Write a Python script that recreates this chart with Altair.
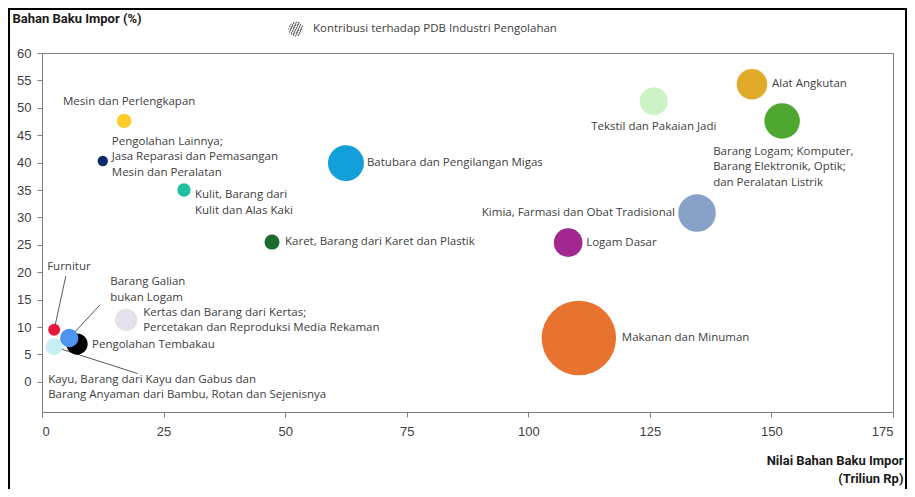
import altair as alt
import pandas as pd

# ---- data ----
sektor = [
    "Makanan dan Minuman", "Logam Dasar", "Kimia, Farmasi dan Obat Tradisional",
    "Barang Logam; Komputer, Barang Elektronik, Optik; dan Peralatan Listrik",
    "Alat Angkutan", "Tekstil dan Pakaian Jadi", "Batubara dan Pengilangan Migas",
    "Karet, Barang dari Karet dan Plastik", "Kulit, Barang dari Kulit dan Alas Kaki",
    "Pengolahan Lainnya; Jasa Reparasi dan Pemasangan Mesin dan Peralatan",
    "Mesin dan Perlengkapan",
    "Kertas dan Barang dari Kertas; Percetakan dan Reproduksi Media Rekaman",
    "Furnitur", "Barang Galian bukan Logam", "Pengolahan Tembakau",
    "Kayu, Barang dari Kayu dan Gabus dan Barang Anyaman dari Bambu, Rotan dan Sejenisnya",
]
nilai_impor = [110.4, 108.2, 134.7, 152.2, 146.0, 125.8, 62.5, 47.3, 29.2, 12.5, 16.9, 17.3, 2.5, 5.6, 7.2, 2.5]
persen_impor = [8.0, 25.4, 30.8, 47.6, 54.3, 51.2, 39.9, 25.5, 35.0, 40.3, 47.6, 11.3, 9.5, 8.0, 6.9, 6.4]
kontribusi = [39.1, 5.8, 10.0, 8.9, 6.6, 5.5, 9.1, 1.6, 1.25, 0.76, 1.47, 3.5, 1.0, 2.4, 3.2, 2.0]

x_ticks = [0, 25, 50, 75, 100, 125, 150, 175]
y_ticks = [0, 5, 10, 15, 20, 25, 30, 35, 40, 45, 50, 55, 60]

# ---- styles ----
warna = ["#E8732F", "#A0288F", "#87A2C6", "#4EA72E", "#E0AA28", "#CDF2C6", "#139FD9",
         "#1B6B2B", "#1FC0A0", "#0E2A6B", "#FFCC2A", "#E6E0EA", "#E8193C", "#4C95F0",
         "#000000", "#C6EEF4"]
label_text = [
    "Makanan dan Minuman", "Logam Dasar", "Kimia, Farmasi dan Obat Tradisional",
    "Barang Logam; Komputer,\nBarang Elektronik, Optik;\ndan Peralatan Listrik",
    "Alat Angkutan", "Tekstil dan Pakaian Jadi", "Batubara dan Pengilangan Migas",
    "Karet, Barang dari Karet dan Plastik", "Kulit, Barang dari\nKulit dan Alas Kaki",
    "Pengolahan Lainnya;\nJasa Reparasi dan Pemasangan\nMesin dan Peralatan",
    "Mesin dan Perlengkapan",
    "Kertas dan Barang dari Kertas;\nPercetakan dan Reproduksi Media Rekaman",
    "Furnitur", "Barang Galian\nbukan Logam", "Pengolahan Tembakau",
    "Kayu, Barang dari Kayu dan Gabus dan\nBarang Anyaman dari Bambu, Rotan dan Sejenisnya",
]
label_align = ["left", "left", "right", "left", "left", "center", "left", "left", "left",
               "left", "center", "left", "left", "left", "left", "left"]
label_dx = [43, 18, -22, -69, 20, 0, 21, 13, 11, 9, 5, 17, -7, 41, 15, -6]
label_dy = [0, 0, 0, 31, 0, 26, 0, 0, 5, -19, -19, -7, -63, -56, 1, 33]

# leader lines (annotation end points, in axis units)
leader_sektor = ["Furnitur", "Barang Galian bukan Logam",
                 "Kayu, Barang dari Kayu dan Gabus dan Barang Anyaman dari Bambu, Rotan dan Sejenisnya"]
leader_x2 = [4.9, 11.9, 19.7]
leader_y2 = [19.3, 14.0, 1.5]

df = pd.DataFrame({
    "sektor": sektor,
    "nilai": nilai_impor,
    "persen": persen_impor,
    "kontribusi": kontribusi,
    "label": label_text,
})
lead_df = pd.DataFrame({"sektor": leader_sektor, "x2": leader_x2, "y2": leader_y2}).merge(
    df[["sektor", "nilai", "persen"]], on="sektor")

AXIS_COL = "#7f7f7f"
TXT = "#404040"

xscale = alt.Scale(domain=[0, 175], nice=False, zero=False)
yscale = alt.Scale(domain=[-5.5, 60], nice=False, zero=False)

x_axis = alt.Axis(
    values=x_ticks, grid=False, tickSize=5, labelPadding=8, labelOverlap=False,
    labelFont="Liberation Sans", labelFontSize=13, labelColor=TXT,
    domainColor=AXIS_COL, tickColor=AXIS_COL,
    title=["Nilai Bahan Baku Impor", "(Triliun Rp)"], titleAngle=0,
    titleAlign="right", titleBaseline="top", titleX=861, titleY=42,
    titleFont="Roboto", titleFontSize=13, titleFontWeight="bold", titleColor="#1a1a1a",
    titleLineHeight=18)
y_axis = alt.Axis(
    values=y_ticks, tickCount=13, grid=False, tickSize=5, labelPadding=6, labelOverlap=False,
    labelFont="Liberation Sans", labelFontSize=13, labelColor=TXT,
    domainColor=AXIS_COL, tickColor=AXIS_COL,
    title="Bahan Baku Impor (%)", titleAngle=0, titleAlign="left",
    titleBaseline="middle", titleX=-30, titleY=-35,
    titleFont="Roboto", titleFontSize=13, titleFontWeight="bold", titleColor="#1a1a1a")

x_enc = alt.X("nilai:Q", scale=xscale, axis=x_axis)
y_enc = alt.Y("persen:Q", scale=yscale, axis=y_axis)

leaders = alt.Chart(lead_df).mark_rule(color="#595959", strokeWidth=1).encode(
    x=x_enc, y=y_enc, x2="x2:Q", y2="y2:Q")

circles = alt.Chart(df).mark_circle(opacity=1).encode(
    x=x_enc, y=y_enc,
    size=alt.Size("kontribusi:Q", scale=alt.Scale(domain=[0, 39.1], range=[0, 5542]), legend=None),
    color=alt.Color("sektor:N", scale=alt.Scale(domain=sektor, range=warna), legend=None),
    order=alt.Order("kontribusi:Q", sort="descending"),
    tooltip=["sektor", "nilai", "persen", "kontribusi"],
)

labels = []
for i, s in enumerate(sektor):
    labels.append(
        alt.Chart(df).transform_filter(alt.datum.sektor == s).mark_text(
            align=label_align[i], baseline="middle", dx=label_dx[i], dy=label_dy[i],
            font="Open Sans", fontSize=11.5, color=TXT, lineBreak="\n", lineHeight=15.5,
        ).encode(x=x_enc, y=y_enc, text="label:N")
    )

# legend (single hatched symbol)
stops = []
n = 7
for k in range(n):
    stops += [
        alt.GradientStop(offset=k / n, color="#7a7a7a"),
        alt.GradientStop(offset=(k + 0.45) / n, color="#7a7a7a"),
        alt.GradientStop(offset=(k + 0.45) / n, color="#e6e6e6"),
        alt.GradientStop(offset=(k + 1) / n, color="#e6e6e6"),
    ]
hatch = alt.LinearGradient(gradient="linear", stops=stops, x1=0, y1=0, x2=1, y2=0.45)
one = pd.DataFrame({"k": [0]})
leg_sym = alt.Chart(one).mark_circle(fill=hatch, opacity=1, size=230).encode(
    x=alt.value(254), y=alt.value(-24))
leg_txt = alt.Chart(one).mark_text(
    align="left", baseline="middle", font="Open Sans", fontSize=11.5, color=TXT).encode(
    x=alt.value(271), y=alt.value(-24), text=alt.value("Kontribusi terhadap PDB Industri Pengolahan"))

frame = alt.Chart(one).mark_rect(fill="transparent", stroke="#000000", strokeWidth=2).encode(
    x=alt.value(-33), x2=alt.value(864), y=alt.value(-44), y2=alt.value(470))

chart = alt.layer(leaders, circles, *labels, leg_sym, leg_txt, frame).properties(
    width=851, height=359,
    autosize=alt.AutoSizeParams(type="none"),
    padding={"left": 34, "top": 45, "right": 14, "bottom": 77},
    background="white",
).configure_view(stroke=AXIS_COL, strokeWidth=1)

chart.save("out.html", embed_options={"renderer": "svg", "actions": False})
